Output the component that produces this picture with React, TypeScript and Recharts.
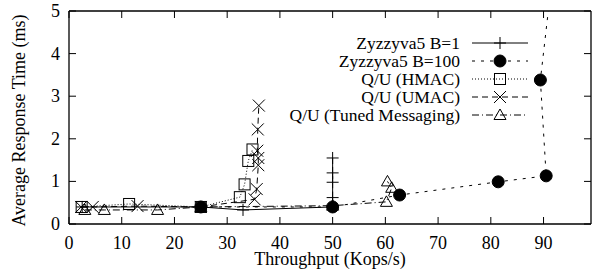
import React from 'react';
import { LineChart, Line, XAxis, YAxis, Legend } from 'recharts';

const xTicks = [0, 10, 20, 30, 40, 50, 60, 70, 80, 90];
const yTicks = [0, 1, 2, 3, 4, 5];

const seriesNames = [
  'Zyzzyva5 B=1',
  'Zyzzyva5 B=100',
  'Q/U (HMAC)',
  'Q/U (UMAC)',
  'Q/U (Tuned Messaging)',
];

const b1X = [2.5, 25, 33, 50, 50, 50, 50, 50];
const b1Y = [0.4, 0.4, 0.33, 0.4, 0.62, 0.98, 1.2, 1.55];

const b100X = [25, 50, 62.7, 81.4, 90.5, 89.4, 92.2];
const b100Y = [0.4, 0.4, 0.68, 0.99, 1.13, 3.38, 6.4];

const hmacX = [2.4, 11.4, 25, 32.4, 33.3, 34.0, 34.8];
const hmacY = [0.4, 0.47, 0.4, 0.63, 0.93, 1.48, 1.75];

const umacX = [2.3, 4.5, 13, 25, 35.2, 35.6, 35.9, 35.9, 35.7, 35.8, 36.0];
const umacY = [0.4, 0.4, 0.42, 0.4, 0.58, 0.82, 1.38, 1.55, 1.72, 2.22, 2.78];

const tunedX = [3.0, 6.7, 16.8, 25, 50, 60.2, 61.2, 60.4];
const tunedY = [0.33, 0.33, 0.33, 0.4, 0.43, 0.52, 0.85, 1.0];

const toPts = (xs: number[], ys: number[]) => xs.map((x, i) => ({ x, y: ys[i] }));

const FONT = '"Liberation Serif", "Times New Roman", serif';
const INK = '#000';

type MP = { cx: number; cy: number };

const PlusM = ({ cx, cy }: MP) => (
  <path d={`M${cx - 6},${cy}H${cx + 6}M${cx},${cy - 6}V${cy + 6}`} stroke={INK} strokeWidth={1} fill="none" />
);
const CircleM = ({ cx, cy }: MP) => <circle cx={cx} cy={cy} r={6} fill={INK} stroke={INK} />;
const SquareM = ({ cx, cy }: MP) => (
  <rect x={cx - 5.5} y={cy - 5.5} width={11} height={11} fill="none" stroke={INK} strokeWidth={1} />
);
const CrossM = ({ cx, cy }: MP) => (
  <path d={`M${cx - 6},${cy - 6}L${cx + 6},${cy + 6}M${cx - 6},${cy + 6}L${cx + 6},${cy - 6}`} stroke={INK} strokeWidth={1} fill="none" />
);
const TriM = ({ cx, cy }: MP) => (
  <path d={`M${cx},${cy - 6}L${cx - 6},${cy + 4.5}L${cx + 6},${cy + 4.5}Z`} stroke={INK} strokeWidth={1} fill="none" />
);

const markers = [PlusM, CircleM, SquareM, CrossM, TriM];
const dashes = [undefined, '3 6', '1 2', '6 4', '7 3 1 3'];
const seriesData = [
  toPts(b1X, b1Y),
  toPts(b100X, b100Y),
  toPts(hmacX, hmacY),
  toPts(umacX, umacY),
  toPts(tunedX, tunedY),
];

const BottomTick = (props: any) => {
  const { x, y, payload } = props;
  return (
    <g>
      <line x1={x} y1={y} x2={x} y2={y - 7} stroke={INK} />
      <text x={x} y={y + 25} textAnchor="middle" fontFamily={FONT} fontSize={18} fill={INK}>
        {payload.value}
      </text>
    </g>
  );
};
const TopTick = (props: any) => {
  const { x, y } = props;
  return <line x1={x} y1={y} x2={x} y2={y + 7} stroke={INK} />;
};
const LeftTick = (props: any) => {
  const { x, y, payload } = props;
  return (
    <g>
      <line x1={x} y1={y} x2={x + 7} y2={y} stroke={INK} />
      <text x={x - 9} y={y + 6} textAnchor="end" fontFamily={FONT} fontSize={18} fill={INK}>
        {payload.value}
      </text>
    </g>
  );
};
const RightTick = (props: any) => {
  const { x, y } = props;
  return <line x1={x} y1={y} x2={x - 7} y2={y} stroke={INK} />;
};

const XTitle = (props: any) => {
  const vb = props.viewBox;
  return (
    <text x={vb.x + vb.width / 2} y={vb.y + 41} textAnchor="middle" fontFamily={FONT} fontSize={18} fill={INK}>
      Throughput (Kops/s)
    </text>
  );
};
const YTitle = (props: any) => {
  const vb = props.viewBox;
  const cx = vb.x + vb.width - 44;
  const cy = vb.y + vb.height / 2 + 3;
  return (
    <text x={cx} y={cy} transform={`rotate(-90 ${cx} ${cy})`} textAnchor="middle" fontFamily={FONT} fontSize={18} fill={INK}>
      Average Response Time (ms)
    </text>
  );
};

const LegendBox = () => {
  const rowY0 = 43;
  const rowStep = 18;
  return (
    <svg width={595} height={140} style={{ display: 'block' }}>
      {seriesNames.map((name, i) => {
        const y = rowY0 + i * rowStep;
        const M = markers[i];
        return (
          <g key={name}>
            <text x={460} y={y + 6} textAnchor="end" fontFamily={FONT} fontSize={17.5} fill={INK}>
              {name}
            </text>
            <line x1={472} y1={y} x2={528} y2={y} stroke={INK} strokeWidth={1} strokeDasharray={dashes[i]} />
            <M cx={500} cy={y} />
          </g>
        );
      })}
    </svg>
  );
};

export default function App() {
  return (
    <div style={{ position: 'absolute', left: 0, top: 0, width: 595, height: 273, background: '#fff' }}>
      <LineChart width={595} height={273} margin={{ top: 10, right: 3, bottom: 48, left: 68 }}>
        <XAxis
          dataKey="x"
          type="number"
          domain={[0, 99]}
          ticks={xTicks}
          interval={0}
          allowDataOverflow
          height={1}
          tickSize={0}
          tickMargin={0}
          tickLine={false}
          tick={<BottomTick />}
          stroke={INK}
          strokeWidth={1.3}
          label={{ content: <XTitle /> } as any}
        />
        <XAxis
          xAxisId="top"
          orientation="top"
          dataKey="x"
          type="number"
          domain={[0, 99]}
          ticks={xTicks}
          interval={0}
          allowDataOverflow
          height={1}
          tickSize={0}
          tickMargin={0}
          tickLine={false}
          tick={<TopTick />}
          stroke={INK}
          strokeWidth={1.3}
        />
        <YAxis
          type="number"
          domain={[0, 5]}
          ticks={yTicks}
          interval={0}
          allowDataOverflow
          width={1}
          tickSize={0}
          tickMargin={0}
          tickLine={false}
          tick={<LeftTick />}
          stroke={INK}
          strokeWidth={1.3}
          label={{ content: <YTitle /> } as any}
        />
        <YAxis
          yAxisId="right"
          orientation="right"
          type="number"
          domain={[0, 5]}
          ticks={yTicks}
          interval={0}
          allowDataOverflow
          width={1}
          tickSize={0}
          tickMargin={0}
          tickLine={false}
          tick={<RightTick />}
          stroke={INK}
          strokeWidth={1.3}
        />
        {seriesData.map((d, i) => {
          const M = markers[i];
          return (
            <Line
              key={seriesNames[i]}
              name={seriesNames[i]}
              data={d}
              dataKey="y"
              type="linear"
              stroke={INK}
              strokeWidth={1}
              strokeDasharray={dashes[i]}
              isAnimationActive={false}
              dot={(p: any) => <M key={`${i}-${p.index}`} cx={p.cx} cy={p.cy} />}
              activeDot={false}
            />
          );
        })}
        <Legend
          layout="vertical"
          align="center"
          verticalAlign="middle"
          content={<LegendBox />}
          wrapperStyle={{ position: 'absolute', left: 0, top: 0, width: 595, height: 140 }}
        />
      </LineChart>
    </div>
  );
}
